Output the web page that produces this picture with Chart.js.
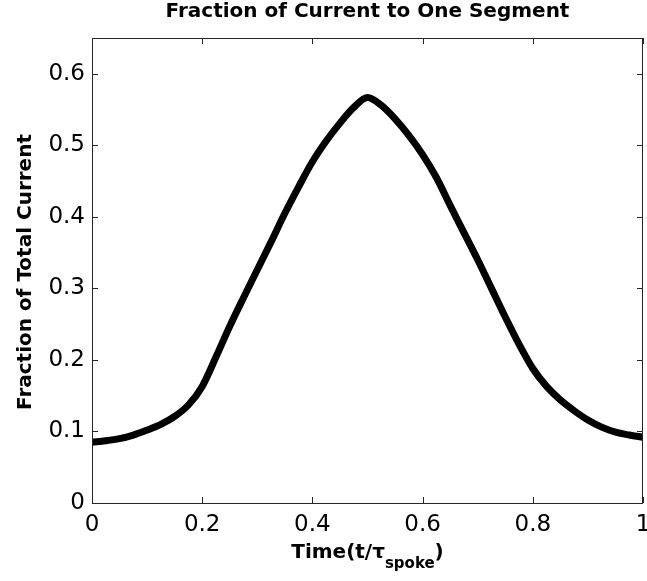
<!DOCTYPE html>
<html>
<head>
<meta charset="utf-8">
<script src="https://cdn.jsdelivr.net/npm/chart.js@4"></script>
<style>
  html, body { margin: 0; padding: 0; background: #fff; }
  #wrap { width: 647px; height: 581px; }
</style>
</head>
<body>
<div id="wrap"><canvas id="myChart" width="647" height="581"></canvas></div>
<script>
// Данные
var times = [0, 0.025, 0.05, 0.075, 0.1, 0.125, 0.15, 0.175, 0.2, 0.225, 0.25, 0.275, 0.3, 0.325, 0.35, 0.375, 0.4, 0.425, 0.45, 0.475, 0.5,
             0.525, 0.55, 0.575, 0.6, 0.625, 0.65, 0.675, 0.7, 0.725, 0.75, 0.775, 0.8, 0.825, 0.85, 0.875, 0.9, 0.925, 0.95, 0.975, 1];
var fraction = [0.085, 0.087, 0.09, 0.095, 0.102, 0.11, 0.121, 0.137, 0.163, 0.204, 0.247, 0.287, 0.326, 0.365, 0.405, 0.442, 0.477, 0.506, 0.531, 0.553, 0.567,
                0.556, 0.537, 0.514, 0.487, 0.455, 0.416, 0.378, 0.34, 0.3, 0.26, 0.222, 0.188, 0.163, 0.144, 0.129, 0.116, 0.106, 0.099, 0.095, 0.092];
var xTicks = [0, 0.2, 0.4, 0.6, 0.8, 1];
var yTicks = [0, 0.1, 0.2, 0.3, 0.4, 0.5, 0.6];

var points = times.map(function (t, i) { return { x: t, y: fraction[i] }; });
var FONT = '"DejaVu Sans", "Liberation Sans", Arial, sans-serif';

// Рамка, внутренние засечки и подписи (как в MATLAB)
var matlabFrame = {
    id: 'matlabFrame',
    afterDraw: function (chart) {
        var c = chart.ctx, a = chart.chartArea;
        var xs = chart.scales.x, ys = chart.scales.y;
        c.save();
        c.strokeStyle = '#262626';
        c.lineWidth = 1;
        c.strokeRect(a.left + 0.5, a.top + 0.5, a.right - a.left - 1, a.bottom - a.top);
        c.beginPath();
        xTicks.forEach(function (v) {
            var px = Math.round(xs.getPixelForValue(v)) + 0.5;
            c.moveTo(px, a.bottom); c.lineTo(px, a.bottom - 6);
            c.moveTo(px, a.top); c.lineTo(px, a.top + 6);
        });
        yTicks.forEach(function (v) {
            var py = Math.round(ys.getPixelForValue(v)) + 0.5;
            c.moveTo(a.left, py); c.lineTo(a.left + 6, py);
            c.moveTo(a.right, py); c.lineTo(a.right - 6, py);
        });
        c.stroke();

        c.fillStyle = '#000';
        var cx = (a.left + a.right) / 2;
        // заголовок
        c.font = 'bold 20px ' + FONT;
        c.textAlign = 'center';
        c.textBaseline = 'alphabetic';
        c.fillText('Fraction of Current to One Segment', cx, 17);
        // подпись оси Y
        c.save();
        c.translate(31, 272);
        c.rotate(-Math.PI / 2);
        c.font = 'bold 20px ' + FONT;
        c.fillText('Fraction of Total Current', 0, 0);
        c.restore();
        // подпись оси X с индексом
        var main1 = 'Time(t/\u03c4', sub = 'spoke', main2 = ')';
        c.font = 'bold 20px ' + FONT;
        var w1 = c.measureText(main1).width, w3 = c.measureText(main2).width;
        c.font = 'bold 15px ' + FONT;
        var w2 = c.measureText(sub).width;
        var x0 = cx - (w1 + w2 + w3) / 2;
        c.textAlign = 'left';
        c.font = 'bold 20px ' + FONT;
        c.fillText(main1, x0, 558);
        c.font = 'bold 15px ' + FONT;
        c.fillText(sub, x0 + w1, 568);
        c.font = 'bold 20px ' + FONT;
        c.fillText(main2, x0 + w1 + w2, 558);
        c.restore();
    }
};

var ctx = document.getElementById('myChart').getContext('2d');
var myChart = new Chart(ctx, {
    type: 'line',
    data: {
        datasets: [{
            data: points,
            borderColor: '#000',
            borderWidth: 7,
            pointRadius: 0,
            tension: 0.4,
            cubicInterpolationMode: 'monotone',
            fill: false
        }]
    },
    options: {
        responsive: false,
        animation: false,
        layout: { padding: { top: 38, right: 4, left: 0, bottom: 0 } },
        plugins: { legend: { display: false }, tooltip: { enabled: false }, title: { display: false } },
        scales: {
            x: {
                type: 'linear',
                min: 0, max: 1,
                afterFit: function (s) { s.height = 78; s.paddingLeft = 0; s.paddingRight = 0; },
                afterBuildTicks: function (s) { s.ticks = xTicks.map(function (v) { return { value: v }; }); },
                grid: { display: false, drawTicks: false },
                border: { display: false },
                ticks: {
                    color: '#000',
                    padding: 8,
                    maxRotation: 0,
                    font: { family: FONT, size: 23 },
                    callback: function (v) { return String(v); }
                }
            },
            y: {
                min: 0, max: 0.65,
                afterFit: function (s) { s.width = 92; s.paddingTop = 0; s.paddingBottom = 0; },
                afterBuildTicks: function (s) { s.ticks = yTicks.map(function (v) { return { value: v }; }); },
                grid: { display: false, drawTicks: false },
                border: { display: false },
                ticks: {
                    color: '#000',
                    padding: 7,
                    font: { family: FONT, size: 23 },
                    callback: function (v) { return String(Math.round(v * 10) / 10); }
                }
            }
        }
    },
    plugins: [matlabFrame]
});
</script>
</body>
</html>
